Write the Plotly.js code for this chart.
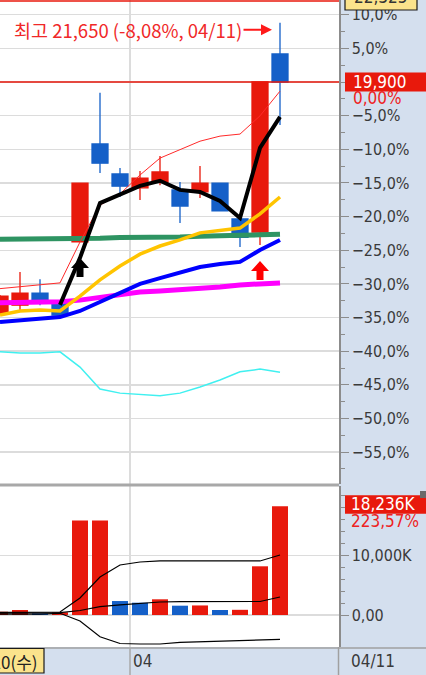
<!DOCTYPE html>
<html><head><meta charset="utf-8">
<script src="https://cdn.plot.ly/plotly-3.0.1.min.js"></script>
<style>html,body{margin:0;padding:0;background:#d4dfee;} #chart{width:426px;height:675px;}</style>
</head><body><div id="chart"></div>
<script>
// ---------- data ----------
const dates  = ['03/21','03/22','03/25','03/26','03/27','03/28','03/29','04/01','04/02','04/03','04/04','04/05','04/08','04/09','04/11'];
const cursorDate = '03/20(수)';
const open   = [13050,13300,13660,13360,15170,18070,17180,16770,16940,16710,16650,16910,15850,15460,20730];
const high   = [13600,14280,14070,13390,16910,19580,17360,17270,17710,16940,17420,16910,15900,19900,21650];
const low    = [13020,13100,13300,12980,15170,17210,16500,16410,16850,15730,16470,16090,15020,15080,18630];
const close  = [13570,13660,13360,13010,16910,17500,16820,17060,17240,16230,16910,16090,15310,19900,19900];
const lineRed    = [13790,13840,13900,13960,15170,16260,16590,17150,17650,17890,18150,18300,18360,18900,19630];
const lineBlack  = [null,null,null,13310,14700,16320,16560,16830,16980,16710,16650,16380,15880,17950,18870];
const lineYellow = [13010,13130,13160,13130,13570,14050,14460,14810,15050,15230,15440,15520,15580,16000,16500];
const lineGreen  = [15250,15250,15250,15250,15280,15280,15300,15300,15320,15320,15340,15340,15370,15380,15400];
const lineBlue   = [12800,12860,12890,12950,13130,13400,13690,13930,14100,14250,14430,14520,14580,14930,15230];
const linePink   = [13370,13370,13370,13400,13450,13540,13630,13690,13720,13750,13810,13840,13900,13930,13960];
const lineCyan   = [11920,11890,11890,11920,11470,10820,10700,10650,10620,10700,10880,11090,11330,11410,11320];
const volume     = [550,840,280,450,15830,15850,2340,2060,2630,1560,1600,840,870,8157,18236]; // K
const volUpper   = [450,450,450,500,2850,6370,8380,8880,9050,9050,9050,9050,9050,9050,10050];
const volMid     = [300,300,300,385,750,1390,1680,1930,2180,2230,2230,2230,2230,2260,3020];
const volLower   = [150,150,150,285,-1000,-3640,-4770,-4860,-4860,-4600,-4500,-4440,-4270,-4190,-4070];
const signalIdx  = [4, 13];
const signalCol  = ['#000000', '#ff0000'];
const pctTicks   = [-55,-50,-45,-40,-35,-30,-25,-20,-15,-10,-5,0,5,10];
const volTicks   = [0, 10000];
const volTickText= ['0,00', '10,000K'];
const volRatioText = '223,57%';

// ---------- layout helpers ----------
const W = 426, H = 675, MR = 87, MB = 28;
const PW = W - MR, PH = H - MB;
const pX = px => px / PW;
const pY = py => (PH - py) / PH;
const FONT = "'Liberation Sans Narrow', 'DejaVu Sans Condensed', 'Noto Sans CJK KR', sans-serif";
const KFONT = "'Liberation Sans Narrow', 'Noto Sans CJK KR', 'DejaVu Sans Condensed', sans-serif";
const RED = '#e8190c', BLUE = '#1560c8', GRID = '#dcdcdc', AXC = '#8c8c8c', TXT = '#3a3a3a';
const yTop = 22325, yBottom = 8013;
const vTop = 21608, vBottom = -5360;

const idx = dates.map((d, i) => i);
const n = dates.length;
const refPrice = close[n - 1];
const num = v => v.toLocaleString('en-US');
const pctStr = (p, d, minus) => (p < 0 ? minus : '') + Math.abs(p).toFixed(d).replace('.', ',') + '%';

const tickVals = pctTicks.map(p => refPrice * (1 + p / 100));
const tickText = pctTicks.map(p => p === 0 ? '' : pctStr(p, 1, '−'));
const minorVals = pctTicks.map(p => refPrice * (1 + (p - 2.5) / 100)).concat([refPrice * 1.075]);

let monthBreak = null;
for (let i = 1; i < n; i++) if (dates[i].slice(0, 2) !== dates[i - 1].slice(0, 2)) monthBreak = i - 0.5;
const newMonth = dates[Math.ceil(monthBreak)].slice(0, 2);

let hiIdx = 0; high.forEach((h, i) => { if (h > high[hiIdx]) hiIdx = i; });
const hiVal = high[hiIdx];
const hiText = '최고 ' + num(hiVal) + ' (' + pctStr((refPrice / hiVal - 1) * 100, 2, '-') + ', ' + dates[hiIdx] + ')';

const volColors = volume.map((v, i) => (i === 0 || v >= volume[i - 1]) ? RED : BLUE);

function line(y, color, width, axis) {
  return {type: 'scatter', mode: 'lines', x: idx, y: y, yaxis: axis || 'y', xaxis: 'x',
          line: {color: color, width: width}, hoverinfo: 'skip', connectgaps: false};
}

const traces = [
  line(lineCyan, '#40f0f0', 1.5),
  line(linePink, '#ff00ff', 5),
  line(lineBlue, '#0000ff', 4),
  line(lineGreen, '#2e9462', 5),
  line(lineYellow, '#ffc400', 3.5),
  line(lineRed, '#ff2a2a', 1),
  line(lineBlack, '#000000', 4),
  {type: 'candlestick', x: idx, open: open, high: high, low: low, close: close, xaxis: 'x', yaxis: 'y',
   increasing: {line: {color: RED, width: 1.3}, fillcolor: RED},
   decreasing: {line: {color: BLUE, width: 1.3}, fillcolor: BLUE},
   whiskerwidth: 0, hoverinfo: 'skip'},
  {type: 'bar', x: idx, y: volume, xaxis: 'x', yaxis: 'y2', width: 0.8,
   marker: {color: volColors, line: {width: 0}}, hoverinfo: 'skip'},
  line(volUpper, '#000000', 1.2, 'y2'),
  line(volMid, '#000000', 1.2, 'y2'),
  line(volLower, '#000000', 1.2, 'y2')
];

const shapes = [];
shapes.push({type: 'line', xref: 'paper', yref: 'paper', x0: 0, x1: 1, y0: pY(1), y1: pY(1), line: {color: RED, width: 1.5}});
shapes.push({type: 'line', xref: 'paper', yref: 'y', x0: 0, x1: 1, y0: refPrice, y1: refPrice, line: {color: RED, width: 1.5}});
shapes.push({type: 'line', xref: 'paper', yref: 'paper', x0: 0, x1: 1, y0: pY(485), y1: pY(485), line: {color: '#a8a8a8', width: 3}});
shapes.push({type: 'line', xref: 'paper', yref: 'paper', x0: 0, x1: W / PW, y0: pY(648), y1: pY(648), line: {color: '#a0a0a0', width: 1.5}});
shapes.push({type: 'line', xref: 'paper', yref: 'paper', x0: pX(338.5), x1: pX(338.5), y0: pY(675), y1: pY(647), line: {color: '#a0a0a0', width: 1.5}});
shapes.push({type: 'line', xref: 'x', yref: 'paper', x0: monthBreak, x1: monthBreak, y0: pY(675), y1: pY(648), line: {color: '#a8a8a8', width: 1.5}});
signalIdx.forEach((si, k) => {
  shapes.push({type: 'path', xref: 'x', yref: 'y', xsizemode: 'pixel', ysizemode: 'pixel',
    xanchor: si, yanchor: low[si],
    path: 'M0,-16 L9,-26 L3.5,-26 L3.5,-35 L-3.5,-35 L-3.5,-26 L-9,-26 Z',
    fillcolor: signalCol[k], line: {width: 0}});
});
shapes.push({type: 'rect', xref: 'paper', yref: 'y', ysizemode: 'pixel', yanchor: refPrice, y0: -9.5, y1: 9.5,
  x0: pX(345), x1: pX(430), fillcolor: RED, line: {width: 0}, layer: 'above'});
shapes.push({type: 'rect', xref: 'paper', yref: 'y2', ysizemode: 'pixel', yanchor: volume[n - 1], y0: -7.5, y1: 11,
  x0: pX(345), x1: pX(430), fillcolor: RED, line: {width: 0}, layer: 'above'});
shapes.push({type: 'rect', xref: 'paper', yref: 'y', ysizemode: 'pixel', yanchor: yTop, y0: -10, y1: 12,
  x0: pX(345), x1: pX(417), fillcolor: '#fbe38c', line: {color: '#1a1a1a', width: 1.2}, layer: 'above'});
shapes.push({type: 'rect', xref: 'paper', yref: 'paper', x0: pX(-10), x1: pX(44), y0: pY(673), y1: pY(648.5),
  fillcolor: '#fbe38c', line: {color: '#1a1a1a', width: 1.2}, layer: 'above'});
shapes.push({type: 'rect', xref: 'paper', yref: 'paper', x0: pX(420), x1: pX(427), y0: pY(498), y1: pY(491),
  fillcolor: '#6a6a6a', line: {width: 0}, layer: 'above'});

const annotations = [
  {xref: 'x', yref: 'y', x: hiIdx, y: hiVal, yshift: -7, ax: -152, ay: 0, axref: 'pixel', ayref: 'pixel',
   text: hiText, showarrow: true, arrowhead: 2, arrowsize: 1.1, arrowwidth: 2, arrowcolor: '#ff1a1a',
   standoff: 8, font: {family: KFONT, size: 18.5, color: '#f02828'}},
  {xref: 'paper', yref: 'y', x: pX(351), y: refPrice, xanchor: 'left', yanchor: 'middle', showarrow: false,
   text: num(refPrice), font: {family: FONT, size: 17, color: '#ffffff'}},
  {xref: 'paper', yref: 'y', x: pX(351), y: refPrice, yshift: -16, xanchor: 'left', yanchor: 'middle', showarrow: false,
   text: pctStr((close[n - 1] / refPrice - 1) * 100, 2, '-'), font: {family: FONT, size: 17, color: '#ee2222'}},
  {xref: 'paper', yref: 'y', x: pX(381), y: yTop, yshift: 3, xanchor: 'center', yanchor: 'middle', showarrow: false,
   text: num(yTop), font: {family: FONT, size: 17, color: '#333333'}},
  {xref: 'paper', yref: 'y2', x: pX(349), y: volume[n - 1], yshift: 2, xanchor: 'left', yanchor: 'middle', showarrow: false,
   text: num(volume[n - 1]) + 'K', font: {family: FONT, size: 17, color: '#ffffff'}},
  {xref: 'paper', yref: 'y2', x: pX(349), y: volume[n - 1], yshift: -15, xanchor: 'left', yanchor: 'middle', showarrow: false,
   text: volRatioText, font: {family: FONT, size: 17, color: '#ee2222'}},
  {xref: 'x', yref: 'paper', x: monthBreak, xshift: 1, y: pY(661), xanchor: 'left', yanchor: 'middle', showarrow: false,
   text: newMonth, font: {family: FONT, size: 17, color: TXT}},
  {xref: 'paper', yref: 'paper', x: pX(349), y: pY(661), xanchor: 'left', yanchor: 'middle', showarrow: false,
   text: dates[n - 1], font: {family: FONT, size: 17, color: TXT}},
  {xref: 'paper', yref: 'paper', x: pX(40), y: pY(661), xanchor: 'right', yanchor: 'middle', showarrow: false,
   text: cursorDate, font: {family: KFONT, size: 17, color: '#222222'}}
];

const axisStyle = {side: 'right', anchor: 'x', tickmode: 'array', ticks: 'outside', ticklen: 8, tickwidth: 1,
  tickcolor: AXC, showline: true, linecolor: AXC, linewidth: 1.5, showgrid: true, gridcolor: GRID, gridwidth: 1.5,
  zeroline: false, fixedrange: true, tickfont: {family: FONT, size: 16, color: TXT}};

const layout = {
  width: W, height: H, margin: {l: 0, r: MR, t: 0, b: MB, pad: 0},
  paper_bgcolor: '#d4dfee', plot_bgcolor: '#ffffff', showlegend: false, hovermode: false, dragmode: false,
  boxgap: 0.2, boxgroupgap: 0,
  xaxis: {domain: [0, 1], range: [0, PW / 20], anchor: 'y2', tickmode: 'array', tickvals: [monthBreak],
          showticklabels: false, ticks: '', showgrid: true, gridcolor: GRID, gridwidth: 1.5, zeroline: false,
          showline: false, rangeslider: {visible: false}, fixedrange: true},
  yaxis: Object.assign({}, axisStyle, {domain: [pY(484), 1], range: [yBottom, yTop], tickvals: tickVals, ticktext: tickText,
          minor: {tickmode: 'array', tickvals: minorVals, ticks: 'outside', ticklen: 4, tickcolor: AXC, showgrid: false}}),
  yaxis2: Object.assign({}, axisStyle, {domain: [0, pY(486)], range: [vBottom, vTop], tickvals: volTicks, ticktext: volTickText,
          minor: {tickmode: 'array', tickvals: [2000,4000,6000,8000,12000,14000,16000,18000,20000], ticks: 'outside', ticklen: 4, tickcolor: AXC, showgrid: false}}),
  shapes: shapes, annotations: annotations
};

Plotly.newPlot('chart', traces, layout, {staticPlot: true, displayModeBar: false});
</script></body></html>
